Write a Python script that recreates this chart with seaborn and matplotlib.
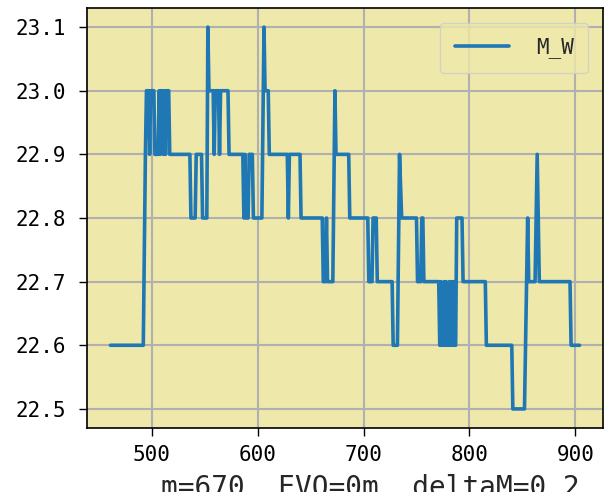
import numpy as np
import pandas as pd
import matplotlib
matplotlib.use("Agg")
import matplotlib.pyplot as plt
import seaborn as sns

# m values and M_W readings (points where the value changes)
m = [461, 492, 494, 495, 497, 498, 499, 502, 503, 506, 507, 508, 509, 510,
     511, 512, 513, 514, 516, 517, 536, 537, 541, 542, 547, 548, 552, 553,
     554, 558, 559, 560, 563, 564, 565, 572, 573, 586, 587, 588, 589, 591,
     592, 595, 596, 604, 606, 607, 610, 611, 628, 629, 630, 640, 641, 661,
     662, 664, 665, 666, 671, 673, 674, 686, 687, 704, 705, 708, 709, 712,
     713, 727, 728, 732, 734, 736, 750, 751, 754, 755, 756, 757, 771, 772,
     773, 774, 775, 776, 777, 778, 779, 780, 781, 782, 783, 784, 785, 786,
     787, 788, 793, 794, 815, 816, 840, 841, 852, 855, 856, 862, 864, 866,
     895, 896, 904]
m_w = [22.6, 22.6, 22.9, 23.0, 23.0, 22.9, 23.0, 23.0, 22.9, 22.9, 23.0, 22.9, 23.0, 23.0,
       22.9, 23.0, 22.9, 23.0, 23.0, 22.9, 22.9, 22.8, 22.8, 22.9, 22.9, 22.8, 22.8, 23.1,
       23.0, 23.0, 22.9, 23.0, 23.0, 22.9, 23.0, 23.0, 22.9, 22.9, 22.8, 22.9, 22.8, 22.8,
       22.9, 22.9, 22.8, 22.8, 23.1, 23.0, 23.0, 22.9, 22.9, 22.8, 22.9, 22.9, 22.8, 22.8,
       22.7, 22.7, 22.8, 22.7, 22.7, 23.0, 22.9, 22.9, 22.8, 22.8, 22.7, 22.7, 22.8, 22.8,
       22.7, 22.7, 22.6, 22.6, 22.9, 22.8, 22.8, 22.7, 22.7, 22.8, 22.8, 22.7, 22.7, 22.6,
       22.7, 22.6, 22.6, 22.7, 22.6, 22.7, 22.6, 22.6, 22.7, 22.6, 22.7, 22.6, 22.7, 22.6,
       22.6, 22.8, 22.8, 22.7, 22.7, 22.6, 22.6, 22.5, 22.5, 22.8, 22.7, 22.7, 22.9, 22.7,
       22.7, 22.6, 22.6]

xlabel = "m=670  EVO=0m  deltaM=0.2"
series = "M_W"

sns.set_style("ticks", {"axes.facecolor": "palegoldenrod", "axes.grid": True,
                        "grid.color": "#b0b0b0", "axes.edgecolor": "black"})
plt.rcParams['font.family'] = ['DejaVu Sans Mono', 'DejaVu Sans']

df = pd.DataFrame({"m": m, "M_W": m_w})

fig = plt.figure(figsize=(6.04, 4.92), dpi=100)
ax = fig.add_axes([87/604, 1-428/492, 516/604, 420/492])
sns.lineplot(data=df, x="m", y="M_W", ax=ax, estimator=None, sort=False,
             color="#1f77b4", linewidth=2.6, label=series)

ax.set_xticks([500, 600, 700, 800, 900])
ax.set_yticks([22.5, 22.6, 22.7, 22.8, 22.9, 23.0, 23.1])
ax.set_yticklabels(["22.5", "22.6", "22.7", "22.8", "22.9", "23.0", "23.1"])
ax.tick_params(labelsize=15, length=6, width=1, colors="black")
ax.tick_params(axis="y", pad=9)
ax.tick_params(axis="x", pad=6)
ax.grid(True, color="#b0b0b0", linewidth=1.5)
for s in ax.spines.values():
    s.set_color("black")
    s.set_linewidth(1.2)

ax.set_ylabel("")
ax.set_xlabel(xlabel, fontsize=20, labelpad=7)
ax.xaxis.label.set_x(0.55)

ax.legend(loc="upper right", fontsize=15, handlelength=2.6, handletextpad=1.3,
          borderpad=0.7, borderaxespad=0.7, framealpha=0.8)

fig.savefig("out.png", dpi=100)
